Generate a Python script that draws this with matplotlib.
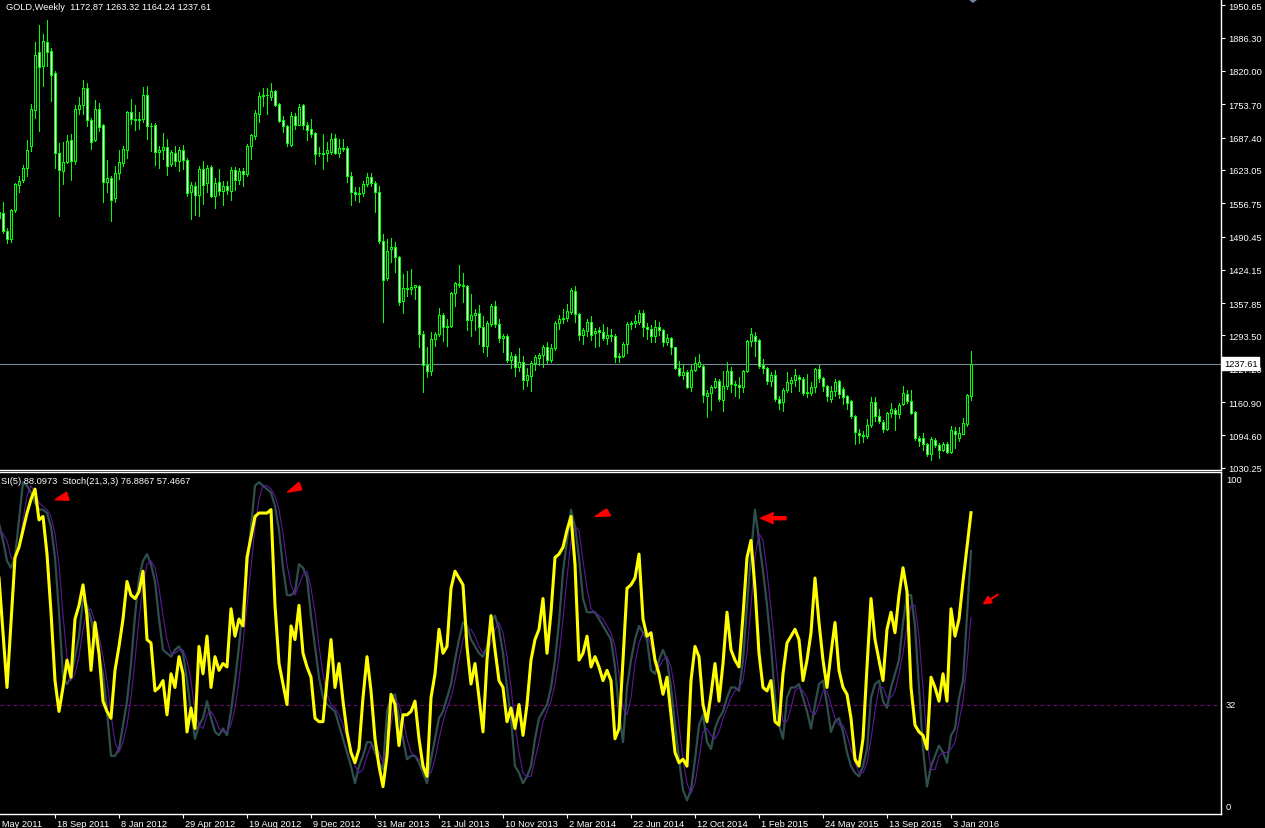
#!/usr/bin/env python
"""
GOLD weekly candles with SI(5) and Stoch(21,3,3) sub-window (MT4 style)
"""

import matplotlib
matplotlib.use('Agg')
import matplotlib.pyplot as plt
from matplotlib.patches import Rectangle, Polygon
from matplotlib.collections import PatchCollection

# ---- weekly OHLC, bar 0 = week of 12 Jun 2011 ----
opens = [1528, 1538, 1502, 1486, 1543, 1592, 1603, 1626, 1670, 1743,
         1858, 1830, 1877, 1860, 1815, 1656, 1620, 1638, 1682, 1641,
         1744, 1752, 1787, 1723, 1683, 1745, 1712, 1598, 1606, 1567,
         1616, 1636, 1663, 1738, 1725, 1722, 1725, 1772, 1711, 1713,
         1659, 1662, 1668, 1635, 1657, 1641, 1662, 1643, 1580, 1591,
         1573, 1624, 1597, 1629, 1572, 1598, 1582, 1590, 1582, 1622,
         1603, 1621, 1615, 1671, 1690, 1734, 1770, 1772, 1768, 1780,
         1754, 1723, 1710, 1673, 1731, 1712, 1752, 1712, 1704, 1696,
         1656, 1657, 1656, 1658, 1686, 1657, 1667, 1666, 1611, 1580,
         1576, 1578, 1594, 1609, 1596, 1580, 1482, 1408, 1465, 1469,
         1449, 1362, 1387, 1386, 1390, 1392, 1297, 1235, 1223, 1286,
         1296, 1334, 1311, 1313, 1378, 1396, 1394, 1392, 1325, 1334,
         1338, 1311, 1272, 1316, 1352, 1316, 1288, 1292, 1245, 1252,
         1230, 1240, 1204, 1212, 1238, 1249, 1254, 1270, 1244, 1268,
         1319, 1326, 1328, 1340, 1382, 1336, 1295, 1302, 1320, 1298,
         1304, 1300, 1288, 1293, 1292, 1250, 1252, 1276, 1316, 1318,
         1320, 1338, 1311, 1307, 1293, 1310, 1304, 1281, 1288, 1270,
         1229, 1215, 1220, 1191, 1224, 1232, 1233, 1173, 1178, 1190,
         1202, 1165, 1192, 1223, 1196, 1195, 1190, 1223, 1282, 1293,
         1284, 1235, 1229, 1202, 1214, 1167, 1161, 1185, 1199, 1204,
         1210, 1207, 1179, 1178, 1190, 1226, 1208, 1192, 1167, 1183,
         1202, 1186, 1172, 1163, 1134, 1100, 1095, 1094, 1116, 1162,
         1134, 1122, 1107, 1139, 1146, 1137, 1157, 1177, 1164, 1141,
         1089, 1089, 1077, 1058, 1086, 1075, 1065, 1077, 1061, 1104,
         1090, 1098, 1117, 1172.87]
highs = [1546, 1560, 1508, 1546, 1596, 1610, 1632, 1682, 1755, 1877,
         1911, 1893, 1921, 1865, 1820, 1676, 1678, 1693, 1694, 1752,
         1768, 1802, 1796, 1726, 1762, 1756, 1714, 1643, 1610, 1631,
         1662, 1671, 1740, 1764, 1752, 1738, 1788, 1790, 1716, 1716,
         1671, 1696, 1684, 1663, 1671, 1668, 1672, 1646, 1598, 1598,
         1631, 1640, 1633, 1633, 1606, 1625, 1601, 1600, 1628, 1628,
         1627, 1626, 1675, 1695, 1743, 1779, 1787, 1787, 1796, 1782,
         1756, 1730, 1712, 1739, 1737, 1754, 1754, 1718, 1724, 1698,
         1669, 1694, 1678, 1696, 1694, 1684, 1684, 1671, 1619, 1588,
         1588, 1600, 1617, 1617, 1600, 1590, 1495, 1485, 1488, 1479,
         1452, 1416, 1422, 1425, 1394, 1394, 1302, 1270, 1301, 1301,
         1348, 1339, 1326, 1380, 1400, 1434, 1418, 1393, 1376, 1346,
         1355, 1333, 1323, 1356, 1362, 1327, 1296, 1296, 1260, 1256,
         1268, 1253, 1228, 1243, 1255, 1258, 1274, 1281, 1276, 1322,
         1334, 1346, 1356, 1388, 1392, 1338, 1308, 1326, 1333, 1308,
         1310, 1316, 1310, 1306, 1296, 1258, 1280, 1321, 1322, 1334,
         1345, 1345, 1319, 1315, 1324, 1320, 1306, 1297, 1291, 1271,
         1242, 1237, 1225, 1235, 1251, 1256, 1235, 1184, 1195, 1209,
         1207, 1223, 1240, 1230, 1203, 1211, 1225, 1285, 1308, 1300,
         1286, 1246, 1230, 1221, 1225, 1172, 1188, 1220, 1210, 1227,
         1215, 1210, 1217, 1200, 1229, 1235, 1210, 1194, 1193, 1207,
         1204, 1190, 1175, 1166, 1136, 1107, 1103, 1128, 1170, 1170,
         1148, 1125, 1142, 1159, 1150, 1160, 1192, 1184, 1185, 1143,
         1094, 1099, 1080, 1091, 1090, 1079, 1082, 1082, 1114, 1111,
         1111, 1130, 1177, 1263.32]
lows = [1518, 1498, 1478, 1480, 1540, 1580, 1598, 1610, 1660, 1726,
        1701, 1790, 1830, 1760, 1627, 1532, 1595, 1637, 1603, 1635,
        1735, 1734, 1710, 1665, 1681, 1701, 1560, 1580, 1522, 1560,
        1604, 1631, 1646, 1715, 1703, 1704, 1718, 1685, 1661, 1633,
        1627, 1645, 1612, 1631, 1630, 1621, 1625, 1572, 1526, 1533,
        1532, 1555, 1580, 1570, 1547, 1573, 1553, 1575, 1563, 1584,
        1594, 1590, 1610, 1645, 1685, 1719, 1750, 1734, 1762, 1750,
        1718, 1698, 1671, 1671, 1704, 1712, 1704, 1683, 1688, 1635,
        1651, 1625, 1641, 1655, 1654, 1648, 1661, 1598, 1553, 1564,
        1560, 1572, 1590, 1590, 1540, 1478, 1321, 1404, 1440, 1419,
        1355, 1338, 1373, 1376, 1366, 1270, 1180, 1210, 1214, 1272,
        1293, 1283, 1273, 1311, 1352, 1389, 1361, 1305, 1292, 1305,
        1276, 1260, 1252, 1312, 1311, 1281, 1261, 1240, 1228, 1212,
        1223, 1187, 1193, 1182, 1224, 1234, 1230, 1239, 1240, 1265,
        1306, 1318, 1322, 1336, 1320, 1285, 1277, 1293, 1285, 1270,
        1273, 1284, 1276, 1283, 1241, 1241, 1250, 1258, 1306, 1311,
        1316, 1293, 1286, 1280, 1281, 1294, 1273, 1274, 1256, 1227,
        1213, 1207, 1188, 1183, 1222, 1231, 1162, 1132, 1146, 1188,
        1164, 1144, 1186, 1180, 1172, 1168, 1180, 1220, 1273, 1253,
        1228, 1219, 1197, 1192, 1164, 1147, 1143, 1180, 1180, 1193,
        1183, 1175, 1170, 1175, 1180, 1201, 1182, 1164, 1162, 1173,
        1168, 1157, 1147, 1130, 1077, 1079, 1081, 1089, 1111, 1123,
        1119, 1101, 1105, 1132, 1106, 1130, 1155, 1160, 1138, 1086,
        1074, 1065, 1054, 1046, 1071, 1049, 1064, 1059, 1059, 1070,
        1084, 1097, 1113, 1164.24]
closes = [1539, 1502, 1486, 1543, 1594, 1600, 1626, 1662, 1745, 1852,
          1827, 1880, 1857, 1811, 1656, 1623, 1638, 1680, 1641, 1744,
          1753, 1787, 1723, 1679, 1745, 1709, 1598, 1606, 1564, 1616,
          1638, 1665, 1738, 1725, 1722, 1725, 1772, 1711, 1710, 1659,
          1662, 1668, 1630, 1658, 1641, 1662, 1642, 1578, 1592, 1573,
          1624, 1592, 1626, 1572, 1596, 1582, 1590, 1583, 1622, 1602,
          1621, 1614, 1671, 1692, 1736, 1770, 1772, 1773, 1780, 1752,
          1721, 1710, 1677, 1731, 1712, 1749, 1712, 1703, 1695, 1655,
          1657, 1655, 1663, 1684, 1657, 1667, 1665, 1610, 1580, 1576,
          1578, 1594, 1609, 1596, 1580, 1482, 1404, 1461, 1469, 1449,
          1361, 1387, 1385, 1390, 1393, 1296, 1235, 1223, 1286, 1296,
          1334, 1311, 1313, 1378, 1398, 1394, 1392, 1325, 1334, 1338,
          1311, 1272, 1318, 1352, 1316, 1288, 1293, 1245, 1252, 1230,
          1240, 1204, 1215, 1238, 1250, 1254, 1270, 1244, 1268, 1319,
          1326, 1328, 1342, 1383, 1336, 1295, 1304, 1321, 1295, 1303,
          1300, 1288, 1294, 1293, 1250, 1253, 1276, 1316, 1318, 1322,
          1339, 1311, 1307, 1293, 1310, 1304, 1281, 1288, 1270, 1229,
          1215, 1221, 1191, 1224, 1238, 1240, 1174, 1178, 1190, 1202,
          1167, 1192, 1223, 1196, 1195, 1190, 1223, 1282, 1296, 1283,
          1233, 1229, 1202, 1215, 1167, 1160, 1185, 1200, 1204, 1214,
          1207, 1179, 1181, 1190, 1226, 1208, 1192, 1172, 1183, 1201,
          1176, 1170, 1160, 1134, 1101, 1096, 1094, 1116, 1162, 1134,
          1123, 1108, 1140, 1148, 1137, 1156, 1178, 1164, 1140, 1089,
          1084, 1077, 1057, 1087, 1076, 1066, 1077, 1062, 1106, 1097,
          1099, 1120, 1175, 1237.61]

# ---- sub-window indicators ----
si5 = [69, 53, 37, 56, 75, 78, 83, 88, 92, 95, 86, 87, 76, 59, 39, 30,
       37, 45, 40, 57, 61, 67, 58, 42, 56, 47, 33, 30, 28, 42, 49, 57,
       68, 64, 63, 65, 71, 51, 50, 36, 37, 39, 29, 41, 37, 46, 41, 24,
       31, 25, 49, 41, 52, 37, 46, 42, 44, 43, 60, 52, 57, 55, 75, 81,
       87, 88, 88, 88, 89, 61, 44, 38, 32, 55, 51, 61, 47, 43, 40, 28,
       27, 27, 39, 51, 37, 44, 33, 24, 18, 15, 19, 34, 46, 36, 22, 14,
       8, 17, 35, 32, 20, 29, 29, 30, 33, 22, 14, 11, 34, 41, 54, 47,
       49, 66, 71, 69, 67, 49, 38, 44, 34, 24, 45, 58, 48, 39, 37, 27,
       31, 25, 32, 23, 32, 45, 51, 54, 63, 47, 59, 75, 76, 78, 83, 87,
       73, 45, 47, 52, 43, 46, 43, 39, 42, 39, 22, 25, 45, 66, 67, 69,
       76, 57, 52, 53, 45, 41, 35, 40, 29, 18, 15, 16, 14, 39, 49, 46,
       32, 27, 35, 44, 33, 44, 59, 48, 45, 43, 58, 75, 80, 66, 47, 37,
       36, 39, 27, 26, 41, 50, 52, 54, 51, 39, 45, 53, 69, 56, 45, 37,
       47, 56, 42, 37, 35, 28, 16, 14, 22, 43, 63, 51, 45, 39, 54, 59,
       53, 64, 72, 65, 37, 26, 24, 23, 19, 40, 37, 33, 41, 33, 60, 52,
       57, 68, 78, 88.1]
stoch_main = [85, 80, 74, 72, 75, 86, 97, 96, 94, 91, 89, 89, 88, 84, 75, 59,
              40, 38, 40, 46, 52, 63, 61, 57, 51, 47, 41, 30, 17, 17, 19, 26,
              33, 44, 58, 69, 74, 76, 73, 68, 57, 48, 47, 46, 48, 49, 47, 39,
              30, 22, 26, 28, 33, 28, 24, 23, 25, 23, 30, 39, 49, 61, 72, 84,
              96, 97, 96, 95, 94, 90, 83, 72, 64, 64, 65, 73, 72, 69, 58, 49,
              40, 34, 32, 31, 30, 26, 22, 18, 14, 9, 14, 17, 21, 21, 18, 15,
              13, 30, 34, 35, 28, 22, 16, 17, 17, 15, 12, 9, 16, 22, 28, 30,
              34, 38, 45, 51, 56, 55, 51, 49, 47, 46, 49, 56, 58, 54, 47, 37,
              28, 14, 12, 9, 11, 14, 22, 28, 30, 32, 37, 45, 56, 71, 80, 89,
              84, 75, 63, 59, 59, 59, 57, 55, 53, 51, 43, 30, 21, 37, 45, 51,
              55, 53, 51, 42, 41, 45, 48, 45, 37, 26, 16, 7, 4, 7, 16, 26,
              29, 21, 19, 25, 28, 30, 34, 37, 37, 36, 45, 61, 76, 89, 80, 71,
              61, 49, 34, 26, 22, 34, 37, 37, 38, 34, 30, 25, 32, 38, 39, 32,
              24, 27, 28, 24, 18, 14, 12, 11, 14, 19, 34, 38, 39, 33, 31, 37,
              41, 45, 56, 64, 64, 55, 37, 19, 8, 14, 17, 20, 18, 15, 23, 25,
              34, 39, 58, 76.9]
stoch_signal = [83, 82, 80, 75, 74, 78, 86, 93, 96, 94, 91, 90, 89, 87, 82, 73,
                58, 46, 39, 41, 46, 54, 59, 60, 56, 52, 46, 39, 29, 21, 18, 21,
                26, 34, 45, 57, 67, 73, 74, 72, 66, 58, 51, 47, 47, 48, 48, 45,
                39, 30, 26, 25, 29, 30, 28, 25, 24, 24, 26, 31, 39, 50, 61, 72,
                84, 92, 96, 96, 95, 93, 89, 82, 73, 67, 64, 67, 70, 71, 66, 59,
                49, 41, 35, 32, 31, 29, 26, 22, 18, 14, 12, 13, 17, 20, 20, 18,
                15, 19, 26, 33, 32, 28, 22, 18, 17, 16, 15, 12, 12, 16, 22, 27,
                31, 34, 39, 45, 51, 54, 54, 52, 49, 47, 47, 50, 54, 56, 53, 46,
                37, 26, 18, 12, 11, 11, 16, 21, 27, 30, 33, 38, 46, 57, 69, 80,
                84, 83, 74, 66, 60, 59, 58, 57, 55, 53, 49, 41, 31, 29, 34, 44,
                50, 53, 53, 49, 45, 43, 45, 46, 43, 36, 26, 16, 9, 6, 9, 16,
                24, 25, 23, 22, 24, 28, 31, 34, 36, 37, 39, 47, 61, 75, 82, 80,
                71, 60, 48, 36, 27, 27, 31, 36, 37, 36, 34, 30, 29, 32, 36, 36,
                32, 28, 26, 26, 23, 19, 15, 12, 12, 15, 22, 30, 37, 37, 34, 34,
                36, 41, 47, 55, 61, 61, 52, 37, 21, 13, 13, 17, 18, 18, 19, 21,
                27, 33, 44, 57.5]

# ---- axis labels ----
price_ticks = [1950.65, 1886.30, 1820.00, 1753.70, 1687.40, 1623.05, 1556.75,
               1490.45, 1424.15, 1357.85, 1293.50, 1227.20, 1160.90, 1094.60,
               1030.25]
date_labels = ['29 May 2011', '18 Sep 2011', '8 Jan 2012', '29 Apr 2012',
               '19 Aug 2012', '9 Dec 2012', '31 Mar 2013', '21 Jul 2013',
               '10 Nov 2013', '2 Mar 2014', '22 Jun 2014', '12 Oct 2014',
               '1 Feb 2015', '24 May 2015', '13 Sep 2015', '3 Jan 2016']
date_bars = [-2, 14, 30, 46, 62, 78, 94, 110, 126, 142, 158, 174, 190, 206,
             222, 238]
last_price = 1237.61
level = 32

plt.rcParams['font.family'] = ['Liberation Sans', 'DejaVu Sans']
fs = 6.7
W, H = 1265, 829
lime = '#00FF00'

fig = plt.figure(figsize=(W / 100, H / 100), dpi=100, facecolor='black')
ax1 = fig.add_axes([0, 1 - 471 / H, 1221 / W, 471 / H], facecolor='black')
ax2 = fig.add_axes([0, 1 - 815 / H, 1221 / W, 342 / H], facecolor='black')

xlo, xhi = 0.25, 305.5
for ax in (ax1, ax2):
    ax.set_xlim(xlo, xhi)
    for s in ax.spines.values():
        s.set_color('white')
        s.set_linewidth(1.0)
    ax.spines['left'].set_visible(False)
ax1.spines['top'].set_visible(False)

# ---- candles ----
n = len(closes)
ax1.vlines(range(n), lows, highs, color=lime, lw=0.72, antialiased=False)
bodies = []
faces = []
for i in range(n):
    o, c = opens[i], closes[i]
    bottom = min(o, c)
    h = max(abs(c - o), 0.6)
    bodies.append(Rectangle((i - 0.25, bottom), 0.5, h))
    faces.append('black' if c >= o else 'white')
pc = PatchCollection(bodies, facecolors=faces, edgecolors=lime,
                     linewidths=0.72, antialiased=False, zorder=3)
ax1.add_collection(pc)

ax1.axhline(last_price, color='#778899', lw=0.8, zorder=1)
ax1.set_ylim(1963.2 - 1.9905 * 471, 1963.2)
ax1.yaxis.tick_right()
ax1.set_yticks(price_ticks)
ax1.set_yticklabels(['%.2f' % p for p in price_ticks])
ax1.set_xticks([])
ax1.tick_params(axis='y', colors='white', labelsize=fs, length=3,
                width=0.8, direction='out', pad=2)

# shift marker at the top
ax1.add_patch(Polygon([(242.5, 1963.2), (244.5, 1963.2), (243.5, 1957)],
                      closed=True, color='#778899', clip_on=False))

# ---- indicator window ----
ax2.axhline(level, color='#800080', lw=0.8, linestyle=(0, (3, 3)))
ax2.plot(range(n), stoch_main, color='#2F4F4F', lw=1.6)
ax2.plot(range(n), stoch_signal, color='#5A1A9A', lw=0.8)
ax2.plot(range(n), si5, color='#FFFF00', lw=2.2)
ax2.set_ylim(0, 100)
ax2.set_yticks([])
ax2.set_xticks(date_bars[1:])
ax2.set_xticklabels([])
ax2.tick_params(axis='x', colors='white', length=3, width=0.8,
                direction='out')
for b, lab in zip(date_bars, date_labels):
    dx = 0.45 if b > 0 else -0.4
    ax2.text(b + dx, -5 / 342, lab, transform=ax2.get_xaxis_transform(),
             ha='left', va='top', color='white', fontsize=fs, clip_on=False)

# red arrows drawn on the indicator window
red = '#FF0000'
tris = [
    [(14.0, 91.9), (16.9, 94.1), (17.5, 91.7)],
    [(72.1, 94.1), (75.0, 97.0), (75.7, 94.8)],
    [(149.0, 87.0), (151.9, 89.2), (152.9, 87.2)],
    [(190.4, 86.5), (193.6, 88.1), (193.3, 86.95), (196.75, 86.95),
     (196.75, 86.05), (193.3, 86.05), (193.6, 84.9)],
]
for t in tris:
    ax2.add_patch(Polygon(t, closed=True, color=red, zorder=5,
                          clip_on=False))
ax2.annotate('', xy=(245.25, 60.8), xytext=(250.25, 64.6),
             arrowprops=dict(arrowstyle='-|>', color=red, lw=1.5,
                             mutation_scale=12), annotation_clip=False)

# ---- texts ----
fig.text(6 / W, 1 - 7 / H, 'GOLD,Weekly  1172.87 1263.32 1164.24 1237.61',
         color='white', fontsize=fs, va='center', ha='left')
fig.text(1 / W, 1 - 482 / H,
         'SI(5) 88.0973  Stoch(21,3,3) 76.8867 57.4667',
         color='white', fontsize=fs, va='center', ha='left')
fig.text(1224 / W, 1 - 364.5 / H, '%.2f' % last_price, color='black',
         fontsize=fs, va='center', ha='left', zorder=10,
         bbox=dict(facecolor='white', edgecolor='white', pad=1.2))
for val, yy in [('100', 481), ('32', 706), ('0', 808)]:
    fig.text(1226 / W, 1 - yy / H, val, color='white', fontsize=fs,
             va='center', ha='left')

fig.savefig('out.png', dpi=100, facecolor='black')
